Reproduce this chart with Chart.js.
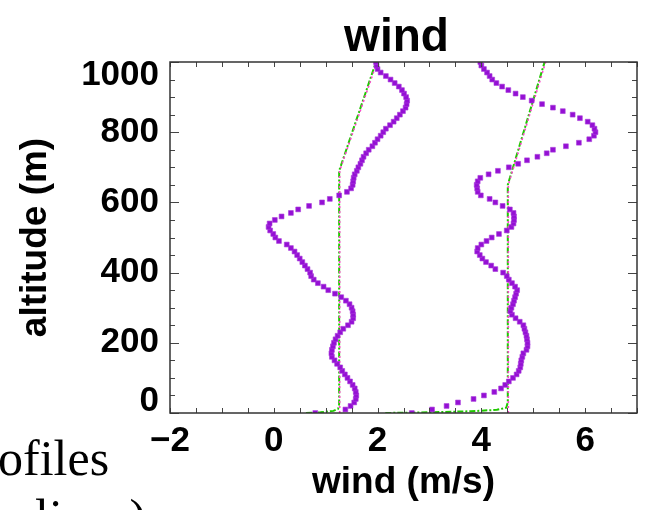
<!DOCTYPE html>
<html>
<head>
<meta charset="utf-8">
<script src="https://cdn.jsdelivr.net/npm/chart.js@4"></script>
<style>
  html, body { margin: 0; padding: 0; background: #fff; }
  #wrap { position: relative; width: 647px; height: 510px; overflow: hidden; background: #fff; }
  #chart { position: absolute; left: 0; top: 0; }
  .slide { position: absolute; font-family: "Liberation Serif", "Times New Roman", serif; font-size: 50px; line-height: 1; color: #000; white-space: nowrap; }
</style>
</head>
<body>
<div id="wrap">
  <canvas id="chart" width="647" height="510"></canvas>
  <div class="slide" style="left:-2px; top:433px;">ofiles</div>
  <div class="slide" style="left:35px; top:492px;">lines)</div>
</div>
<script>
// altitude of the observed profiles (m)
const altitudes = [
    0, 10, 20, 30, 40, 50, 60, 70, 80, 90,
    100, 110, 120, 130, 140, 150, 160, 170, 180, 190,
    200, 210, 220, 230, 240, 250, 260, 270, 280, 290,
    300, 310, 320, 330, 340, 350, 360, 370, 380, 390,
    400, 410, 420, 430, 440, 450, 460, 470, 480, 490,
    500, 510, 520, 530, 540, 550, 560, 570, 580, 590,
    600, 610, 620, 630, 640, 650, 660, 670, 680, 690,
    700, 710, 720, 730, 740, 750, 760, 770, 780, 790,
    800, 810, 820, 830, 840, 850, 860, 870, 880, 890,
    900, 910, 920, 930, 940, 950, 960, 970, 980, 990,
    1000
];

// observed wind, left profile (m/s)
const windLeft = [
    0.80, 1.38, 1.48, 1.55, 1.58, 1.59, 1.58, 1.56, 1.52, 1.47,
    1.42, 1.37, 1.32, 1.28, 1.22, 1.17, 1.12, 1.11, 1.12, 1.14,
    1.16, 1.19, 1.23, 1.28, 1.34, 1.43, 1.50, 1.53, 1.53, 1.52,
    1.50, 1.46, 1.39, 1.30, 1.18, 1.05, 0.96, 0.85, 0.77, 0.72,
    0.70, 0.65, 0.60, 0.55, 0.50, 0.45, 0.40, 0.33, 0.25, 0.10,
    0.03, -0.01, -0.07, -0.10, -0.08, 0.02, 0.15, 0.33, 0.47, 0.68,
    0.93, 1.08, 1.26, 1.41, 1.49, 1.52, 1.53, 1.54, 1.56, 1.60,
    1.63, 1.67, 1.70, 1.73, 1.78, 1.83, 1.90, 1.95, 2.00, 2.06,
    2.11, 2.16, 2.24, 2.31, 2.37, 2.43, 2.49, 2.54, 2.56, 2.57,
    2.55, 2.51, 2.47, 2.41, 2.33, 2.25, 2.16, 2.06, 2.00, 1.98,
    1.97
];

// observed wind, right profile (m/s)
const windRight = [
    2.66, 3.05, 3.33, 3.55, 3.85, 4.05, 4.25, 4.38, 4.46, 4.53,
    4.61, 4.68, 4.72, 4.75, 4.76, 4.77, 4.79, 4.81, 4.87, 4.89,
    4.89, 4.88, 4.87, 4.85, 4.83, 4.81, 4.74, 4.66, 4.59, 4.56,
    4.58, 4.61, 4.63, 4.65, 4.67, 4.69, 4.65, 4.59, 4.53, 4.49,
    4.42, 4.27, 4.19, 4.09, 4.02, 3.97, 3.92, 3.93, 4.00, 4.10,
    4.20, 4.34, 4.49, 4.58, 4.62, 4.63, 4.63, 4.62, 4.55, 4.41,
    4.27, 4.16, 3.99, 3.93, 3.92, 3.91, 3.93, 3.98, 4.14, 4.32,
    4.53, 4.71, 4.88, 5.08, 5.26, 5.38, 5.63, 5.88, 6.08, 6.17,
    6.20, 6.18, 6.14, 6.05, 5.90, 5.76, 5.57, 5.38, 5.17, 4.97,
    4.80, 4.66, 4.52, 4.40, 4.29, 4.21, 4.16, 4.11, 4.05, 4.00,
    3.98
];

// model profiles (green dash-dot, with surface layer)
const greenLeftAlt = [0, 2, 6, 12, 25, 690, 1000];
const greenLeftWind = [0.62, 0.90, 1.15, 1.24, 1.26, 1.26, 1.97];
const greenRightAlt = [0, 2, 5, 9, 15, 30, 650, 1000];
const greenRightWind = [2.15, 3.00, 3.80, 4.30, 4.48, 4.51, 4.51, 5.22];

// model profiles (magenta dashed)
const pinkLeftAlt = [0, 690, 1000];
const pinkLeftWind = [1.27, 1.27, 1.99];
const pinkRightAlt = [0, 650, 1000];
const pinkRightWind = [4.52, 4.52, 5.24];

const xTicks = [-2, 0, 2, 4, 6];
const yTicks = [0, 200, 400, 600, 800, 1000];

const toPoints = (xs, ys) => xs.map((x, i) => ({ x: x, y: ys[i] }));

const FONT = '"Liberation Sans", Arial, Helvetica, sans-serif';

const framePlugin = {
    id: 'frame',
    afterDatasetsDraw(chart) {
        const ctx = chart.ctx;
        const xs = chart.scales.x;
        const ys = chart.scales.y;
        const a = chart.chartArea;
        ctx.save();
        ctx.strokeStyle = '#444';
        ctx.lineWidth = 1;
        // minor ticks, inside the frame
        ctx.beginPath();
        for (let v = xs.min; v <= xs.max + 1e-9; v += 0.5) {
            const px = Math.round(xs.getPixelForValue(v)) + 0.5;
            ctx.moveTo(px, a.bottom); ctx.lineTo(px, a.bottom - 5);
            ctx.moveTo(px, a.top); ctx.lineTo(px, a.top + 5);
        }
        for (let v = ys.min; v <= ys.max + 1e-9; v += 50) {
            const py = Math.round(ys.getPixelForValue(v)) + 0.5;
            const len = v % 200 === 0 ? 9 : 5;
            ctx.moveTo(a.left, py); ctx.lineTo(a.left + len, py);
            ctx.moveTo(a.right, py); ctx.lineTo(a.right - len, py);
        }
        ctx.stroke();
        // frame
        ctx.lineWidth = 1.5;
        ctx.strokeStyle = '#333';
        ctx.strokeRect(a.left, a.top, a.right - a.left, a.bottom - a.top);

        // y tick labels (end labels pulled inside the frame, as in the original)
        ctx.fillStyle = '#000';
        ctx.font = 'bold 35px ' + FONT;
        ctx.textAlign = 'right';
        ctx.textBaseline = 'middle';
        yTicks.forEach(v => {
            let py = ys.getPixelForValue(v);
            if (v === ys.max) py += 13;
            if (v === ys.min) py -= 12;
            ctx.fillText(String(v), a.left - 11, py);
        });

        // title
        ctx.font = 'bold 46px ' + FONT;
        ctx.textAlign = 'center';
        ctx.textBaseline = 'alphabetic';
        ctx.fillText('wind', (a.left + a.right) / 2 - 7, 51);
        ctx.restore();
    }
};

new Chart(document.getElementById('chart').getContext('2d'), {
    type: 'scatter',
    data: {
        datasets: [
            {
                data: toPoints(windLeft, altitudes),
                backgroundColor: '#9410d4',
                borderColor: 'rgba(170, 60, 220, 0.6)',
                borderWidth: 1,
                pointStyle: 'rect',
                pointRadius: 3.4,
                showLine: false
            },
            {
                data: toPoints(windRight, altitudes),
                backgroundColor: '#9410d4',
                borderColor: 'rgba(170, 60, 220, 0.6)',
                borderWidth: 1,
                pointStyle: 'rect',
                pointRadius: 3.4,
                showLine: false
            },
            {
                data: toPoints(pinkLeftWind, pinkLeftAlt),
                showLine: true,
                borderColor: '#ff40cc',
                borderWidth: 1.6,
                borderDash: [2, 3],
                pointRadius: 0
            },
            {
                data: toPoints(pinkRightWind, pinkRightAlt),
                showLine: true,
                borderColor: '#ff40cc',
                borderWidth: 1.6,
                borderDash: [2, 3],
                pointRadius: 0
            },
            {
                data: toPoints(greenLeftWind, greenLeftAlt),
                showLine: true,
                borderColor: '#20c800',
                borderWidth: 2,
                borderDash: [6, 2, 2, 2],
                pointRadius: 0
            },
            {
                data: toPoints(greenRightWind, greenRightAlt),
                showLine: true,
                borderColor: '#20c800',
                borderWidth: 2,
                borderDash: [6, 2, 2, 2],
                pointRadius: 0
            }
        ]
    },
    options: {
        responsive: false,
        animation: false,
        layout: { padding: { top: 62, right: 10, left: 0, bottom: 0 } },
        plugins: {
            legend: { display: false },
            tooltip: { enabled: false },
            title: { display: false }
        },
        scales: {
            x: {
                type: 'linear',
                min: -2,
                max: 7,
                grid: { display: false, drawTicks: false },
                border: { display: false },
                ticks: {
                    stepSize: 2,
                    includeBounds: false,
                    padding: 11,
                    color: '#000',
                    font: { family: FONT, size: 35, weight: 'bold', lineHeight: 1 },
                    callback: v => (v < 0 ? '\u2212' + Math.abs(v) : String(v))
                },
                title: {
                    display: true,
                    text: 'wind (m/s)',
                    color: '#000',
                    font: { family: FONT, size: 37, weight: 'bold', lineHeight: 1 },
                    padding: { top: 0, bottom: 9 }
                },
                afterFit: scale => { scale.height = 97; }
            },
            y: {
                type: 'linear',
                min: 0,
                max: 1000,
                grid: { display: false, drawTicks: false },
                border: { display: false },
                ticks: { display: false, stepSize: 200 },
                title: {
                    display: true,
                    text: 'altitude (m)',
                    color: '#000',
                    font: { family: FONT, size: 37, weight: 'bold', lineHeight: 1 },
                    padding: { top: 17, bottom: 0 }
                },
                afterFit: scale => { scale.width = 170; }
            }
        }
    },
    plugins: [framePlugin]
});
</script>
</body>
</html>
